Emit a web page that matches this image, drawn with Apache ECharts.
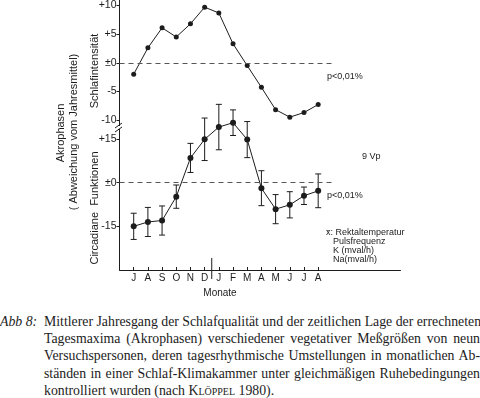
<!DOCTYPE html>
<html>
<head>
<meta charset="utf-8">
<script src="https://cdn.jsdelivr.net/npm/echarts@6/dist/echarts.min.js"></script>
<style>
   body { margin: 0; background: #fff; }
   #main { position: absolute; left: 0; top: 0; width: 480px; height: 305px; }
   #cap { position: absolute; left: 0; top: 313px; width: 480px; font-family: "Liberation Serif", serif;
      font-size: 13.8px; line-height: 17.2px; color: #1c1c1c; }
   #cap .abb { position: absolute; left: 0; top: 0; font-style: italic; }
   #cap .body { position: absolute; left: 44px; top: 0; width: 436px; }
   #cap .l { text-align: justify; text-align-last: justify; white-space: nowrap; }
   .sc { font-variant: small-caps; }
</style>
</head>
<body>
<div id="main"></div>
<div id="cap">
   <span class="abb">Abb 8:</span>
   <div class="body">
      <div class="l">Mittlerer Jahresgang der Schlafqualität und der zeitlichen Lage der errechneten</div>
      <div class="l">Tagesmaxima (Akrophasen) verschiedener vegetativer Meßgrößen von neun</div>
      <div class="l">Versuchspersonen, deren tagesrhythmische Umstellungen in monatlichen Ab-</div>
      <div class="l">ständen in einer Schlaf-Klimakammer unter gleichmäßigen Ruhebedingungen</div>
      <div>kontrolliert wurden (nach <span class="sc">Klöppel</span> 1980).</div>
   </div>
</div>
<script>
// Monate Juli .. August des Folgejahres
const months = ['J', 'A', 'S', 'O', 'N', 'D', 'J', 'F', 'M', 'A', 'M', 'J', 'J', 'A']
// Schlafintensität (oben)
const sleepIntensity = [-2, 2.6, 6.1, 4.5, 6.8, 9.7, 8.7, 3.3, -0.5, -4.3, -8.2, -9.5, -8.7, -7.3]
// Akrophasen circadianer Funktionen (unten), Mittelwert und Streuung
const akrophase = [-15, -13.5, -13, -4.8, 8.5, 14.9, 19.1, 20.6, 14.8, -1.9, -9.1, -7.6, -4.5, -2.8]
const akroError = [4.5, 5, 5, 4, 5, 7.3, 7.8, 4.4, 6.2, 6, 5, 4.5, 3, 5.8]

const topTickValues = [-10, -5, 0, 5, 10]
const topTickLabels = ['-10', '-5', '±0', '+5', '+10']
const lowTickValues = [-15, 0, 15]
const lowTickLabels = ['-15', '±0', '+15']

const ink = '#1c1c1c'
const font = 'Liberation Sans'
const monthIdx = months.map((m, i) => i)

function tickLabel(values, labels) {
   return function (v) {
      let i = values.indexOf(v)
      return i < 0 ? '' : labels[i]
   }
}

const zeroLine = {
   silent: true,
   symbol: ['none', 'none'],
   label: { show: false },
   lineStyle: { type: [5, 4], color: '#555', width: 1 },
   data: [[{ coord: [-1, 0] }, { coord: [14.2, 0] }]]
}

function txt(x, y, text, size, align, rotation) {
   return {
      type: 'text', x: x, y: y, silent: true, rotation: rotation || 0,
      style: {
         text: text, fill: ink, fontFamily: font, fontSize: size,
         textAlign: align || 'left', textVerticalAlign: 'middle'
      }
   }
}

function vtxt(x, y, text, size) {
   return txt(x, y, text, size, 'center', Math.PI / 2)
}

let myChart = echarts.init(document.getElementById('main'))

myChart.setOption({
   animation: false,
   textStyle: { fontFamily: font, color: ink },
   grid: [
      { left: 119.5, top: 5, width: 281, height: 115 },
      { left: 119.5, top: 139, width: 281, height: 131 }
   ],
   xAxis: [
      { gridIndex: 0, type: 'value', min: -1, max: 18.8, show: false },
      {
         gridIndex: 1, type: 'value', min: -1, max: 18.8,
         splitLine: { show: false },
         axisLine: { onZero: false, lineStyle: { color: ink, width: 1 } },
         axisTick: { inside: true, length: 3, customValues: monthIdx, lineStyle: { color: ink } },
         axisLabel: {
            customValues: monthIdx, formatter: v => months[v],
            fontSize: 10, color: ink, margin: 3
         }
      }
   ],
   yAxis: [
      {
         gridIndex: 0, type: 'value', min: -10, max: 10, interval: 5,
         splitLine: { show: false },
         axisLine: { show: false, onZero: false },
         axisTick: { show: true, length: 3, lineStyle: { color: ink } },
         axisLabel: { formatter: tickLabel(topTickValues, topTickLabels), fontSize: 10.5, color: ink, margin: 3 }
      },
      {
         gridIndex: 1, type: 'value', min: -30, max: 15, interval: 15,
         splitLine: { show: false },
         axisLine: { show: false, onZero: false },
         axisTick: { show: true, length: 3, customValues: lowTickValues, lineStyle: { color: ink } },
         axisLabel: {
            customValues: lowTickValues, formatter: tickLabel(lowTickValues, lowTickLabels),
            fontSize: 10.5, color: ink, margin: 3
         }
      }
   ],
   series: [
      {
         name: 'Schlafintensität',
         type: 'line',
         xAxisIndex: 0, yAxisIndex: 0,
         data: sleepIntensity.map((v, i) => [i, v]),
         symbol: 'circle', symbolSize: 5,
         clip: false,
         lineStyle: { color: ink, width: 1 },
         itemStyle: { color: ink },
         markLine: zeroLine
      },
      {
         name: 'Fehler',
         type: 'custom',
         xAxisIndex: 1, yAxisIndex: 1,
         clip: false,
         data: akrophase.map((v, i) => [i, v - akroError[i], v + akroError[i]]),
         encode: { x: 0, y: [1, 2] },
         renderItem: function (params, api) {
            let x = api.value(0)
            let lo = api.coord([x, api.value(1)])
            let hi = api.coord([x, api.value(2)])
            let c = 3
            let st = { stroke: ink, lineWidth: 1 }
            return {
               type: 'group', children: [
                  { type: 'line', shape: { x1: lo[0], y1: lo[1], x2: hi[0], y2: hi[1] }, style: st },
                  { type: 'line', shape: { x1: lo[0] - c, y1: lo[1], x2: lo[0] + c, y2: lo[1] }, style: st },
                  { type: 'line', shape: { x1: hi[0] - c, y1: hi[1], x2: hi[0] + c, y2: hi[1] }, style: st }
               ]
            }
         }
      },
      {
         name: 'Akrophasen',
         type: 'line',
         xAxisIndex: 1, yAxisIndex: 1,
         data: akrophase.map((v, i) => [i, v]),
         symbol: 'circle', symbolSize: 6,
         clip: false,
         lineStyle: { color: ink, width: 1 },
         itemStyle: { color: ink },
         markLine: zeroLine
      }
   ]
})

// Jahreswechsel zwischen D und J
let sep = myChart.convertToPixel({ gridIndex: 1 }, [5.5, -30])

myChart.setOption({
   graphic: [
      { type: 'line', silent: true, shape: { x1: 119.5, y1: 0, x2: 119.5, y2: 270 }, style: { stroke: ink, lineWidth: 1 } },
      { type: 'rect', silent: true, shape: { x: 117, y: 126, width: 5, height: 3 }, style: { fill: '#fff' } },
      { type: 'line', silent: true, shape: { x1: 115, y1: 128, x2: 122, y2: 123 }, style: { stroke: ink, lineWidth: 1 } },
      { type: 'line', silent: true, shape: { x1: 115, y1: 132, x2: 122, y2: 127 }, style: { stroke: ink, lineWidth: 1 } },
      { type: 'line', silent: true, shape: { x1: sep[0], y1: sep[1] - 12, x2: sep[0], y2: sep[1] + 9 }, style: { stroke: ink, lineWidth: 1 } },

      vtxt(95, 71, 'Schlafintensität', 11),
      vtxt(61, 133, 'Akrophasen', 11),
      vtxt(74, 132, '( Abweichung vom Jahresmittel)', 11),
      vtxt(95, 208, 'Circadiane  Funktionen', 11),

      txt(327, 77, 'p<0,01%', 9),
      txt(327, 196, 'p<0,01%', 9),
      txt(362, 157, '9 Vp', 9),
      txt(326, 233, 'x\u0304: Rektaltemperatur', 9),
      txt(333, 242, 'Pulsfrequenz', 9),
      txt(333, 251, 'K (mval/h)', 9),
      txt(333, 260, 'Na(mval/h)', 9),
      txt(220, 293, 'Monate', 10, 'center')
   ]
})
</script>
</body>
</html>
